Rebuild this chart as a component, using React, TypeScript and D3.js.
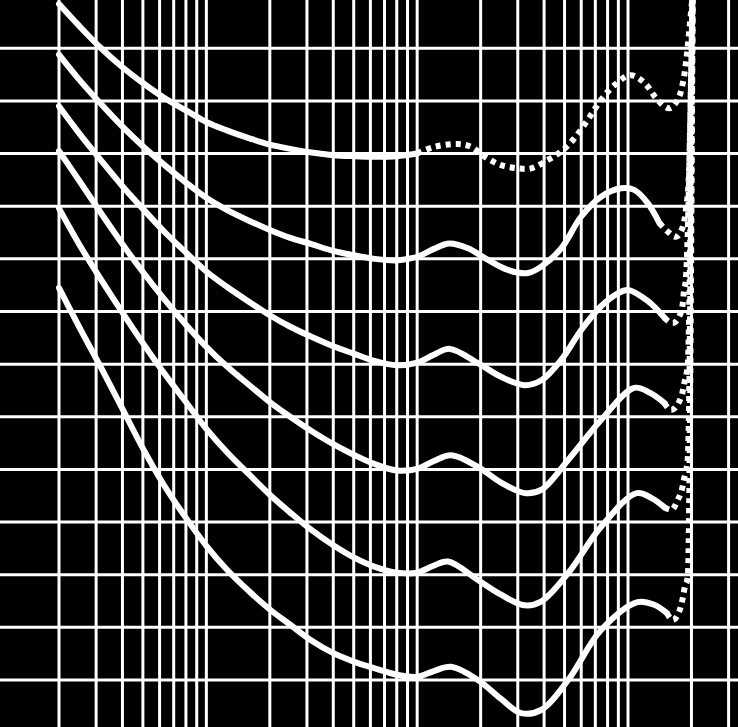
import React from "react";
import * as d3 from "d3";

// Frequency axis (Hz) and level axis (dB SPL) grid values
const gridFreqs = [20, 30, 40, 50, 60, 70, 80, 90, 100, 200, 300, 400, 500, 600, 700, 800, 900, 1000, 2000, 3000, 4000, 5000, 6000, 7000, 8000, 9000, 10000, 20000, 30000];
const gridLevels = [0, 10, 20, 30, 40, 50, 60, 70, 80, 90, 100, 110, 120, 130];

// Low/mid frequency part, shared by all contours (Hz)
const freqLow = [20, 25, 31.5, 40, 50, 63, 80, 100, 125, 160, 200, 250, 315, 400, 500, 630, 800];

const phon100Low = [128.4, 124.2, 120.1, 116.4, 113.4, 110.6, 108.2, 106.0, 104.4, 102.9, 101.7, 100.9, 100.2, 99.7, 99.5, 99.4, 99.5];
const phon80Low = [118.8, 114.0, 109.5, 105.1, 101.4, 97.9, 94.5, 91.6, 89.3, 87.2, 85.5, 84.0, 82.8, 81.5, 80.7, 80.0, 79.7];
const phon60Low = [109.0, 103.8, 98.8, 93.8, 89.5, 85.2, 81.2, 77.6, 74.7, 71.8, 69.3, 67.1, 65.2, 63.4, 62.0, 60.6, 59.8];
const phon40Low = [100.5, 94.8, 88.8, 82.8, 77.5, 72.4, 67.5, 63.3, 59.6, 56.0, 52.8, 50.0, 47.3, 44.8, 42.8, 41.0, 39.8];
const phon20Low = [89.6, 82.7, 76.2, 69.8, 64.0, 58.3, 52.8, 47.7, 43.3, 39.0, 35.2, 31.8, 28.5, 25.6, 23.3, 21.5, 20.4];
const phon0Low = [74.5, 67.0, 59.5, 51.5, 44.0, 37.0, 30.8, 25.5, 21.0, 16.8, 13.4, 10.5, 7.5, 5.1, 3.5, 2.2, 1.0];

// 100-phon contour from 1 kHz upward (dotted)
const freq100High = [1000, 1210, 1560, 1800, 2090, 2500, 3000, 3470, 4170, 4820, 5570, 6440, 7450, 8620, 10300, 12000, 13800, 15700, 17200, 18200, 18900, 19600, 20300];
const phon100High = [100.0, 101.3, 101.8, 101.3, 99.4, 97.8, 97.2, 97.2, 98.8, 100.4, 102.9, 106.4, 110.2, 113.0, 114.9, 113.4, 110.2, 108.6, 110.2, 113.4, 117.8, 124.1, 130.5];

// Other contours from 1 kHz up to ~15 kHz (solid)
const freq80High = [1000, 1200, 1420, 1740, 2170, 2690, 3350, 3870, 4820, 5990, 7450, 9290, 10700, 12400, 14100];
const phon80High = [80.4, 81.9, 82.9, 82.0, 79.8, 77.9, 77.3, 78.5, 82.0, 88.0, 91.8, 93.4, 93.1, 90.6, 86.8];
const freq60High = [1000, 1200, 1430, 1940, 2500, 3230, 3900, 4820, 6000, 7450, 8900, 10000, 12400, 14900];
const phon60High = [60.3, 61.8, 62.9, 60.2, 57.6, 56.0, 57.0, 60.8, 66.5, 71.0, 73.4, 74.1, 72.0, 68.8];
const freq40High = [1000, 1200, 1450, 1940, 2500, 3230, 3870, 5200, 7450, 10700, 12800, 14900];
const phon40High = [40.1, 41.6, 42.7, 40.5, 37.5, 35.5, 36.1, 41.8, 49.4, 55.5, 54.5, 52.6];
const freq20High = [1000, 1180, 1400, 1940, 2500, 3230, 3870, 5200, 7450, 11000, 13000, 14900];
const phon20High = [20.4, 21.6, 22.5, 19.0, 16.2, 14.2, 14.9, 20.3, 29.1, 35.5, 34.5, 32.8];
const freq0High = [1000, 1200, 1450, 1940, 2500, 3110, 3870, 5200, 7450, 11100, 13300, 15300];
const phon0High = [0.6, 1.7, 2.5, 0.0, -3.6, -6.3, -5.7, 0.0, 9.5, 14.8, 14.3, 12.7];

// Dotted extrapolations above ~15 kHz
const freq80Ext = [14100, 15400, 16900, 18200, 18900, 19400, 20300];
const phon80Ext = [86.8, 85.2, 84.2, 86.1, 89.9, 95.0, 135.0];
const freq60Ext = [14900, 16300, 17600, 18200, 18400, 18800, 20300];
const phon60Ext = [68.8, 67.8, 69.3, 71.6, 73.7, 76.0, 135.0];
const freq40Ext = [14900, 16000, 17900, 18500, 19200, 20300];
const phon40Ext = [52.6, 51.3, 53.8, 56.4, 60.0, 135.0];
const freq20Ext = [14900, 16100, 17200, 18000, 18400, 19200, 20300];
const phon20Ext = [32.8, 32.3, 34.2, 36.1, 38.0, 42.0, 135.0];
const freq0Ext = [15300, 16300, 17600, 18200, 18600, 19200, 20300];
const phon0Ext = [12.7, 11.4, 13.3, 15.6, 17.7, 19.4, 135.0];

const W = 738;
const H = 727;

const x = d3.scaleLog().domain([20, 10000]).range([59, 628]);
const y = d3.scaleLinear().domain([0, 120]).range([680, 48.3]);

const smoothLine = d3
  .line<[number, number]>()
  .x((d) => x(d[0]))
  .y((d) => y(d[1]))
  .curve(d3.curveCatmullRom.alpha(0.5));

const extLine = d3
  .line<[number, number]>()
  .x((d) => x(d[0]))
  .y((d) => y(d[1]))
  .curve(d3.curveMonotoneX);

const zip = (fs: number[], vs: number[]): [number, number][] => fs.map((f, i) => [f, vs[i]]);

const solidSeries = [
  zip(freqLow, phon100Low).concat([[freq100High[0], phon100High[0]]]),
  zip(freqLow, phon80Low).concat(zip(freq80High, phon80High)),
  zip(freqLow, phon60Low).concat(zip(freq60High, phon60High)),
  zip(freqLow, phon40Low).concat(zip(freq40High, phon40High)),
  zip(freqLow, phon20Low).concat(zip(freq20High, phon20High)),
  zip(freqLow, phon0Low).concat(zip(freq0High, phon0High)),
];

const topDotted = zip(freq100High, phon100High);

const extSeries = [
  zip(freq80Ext, phon80Ext),
  zip(freq60Ext, phon60Ext),
  zip(freq40Ext, phon40Ext),
  zip(freq20Ext, phon20Ext),
  zip(freq0Ext, phon0Ext),
];

export default function App() {
  return (
    <svg
      width={W}
      height={H}
      viewBox={`0 0 ${W} ${H}`}
      style={{ position: "absolute", left: 0, top: 0, display: "block" }}
    >
      <defs>
        <clipPath id="plot">
          <rect x={0} y={0} width={W} height={H} />
        </clipPath>
      </defs>
      <rect x={0} y={0} width={W} height={H} fill="#000" />
      <g stroke="#fff" strokeWidth={3}>
        {gridFreqs.map((f) => (
          <line key={"v" + f} x1={x(f)} x2={x(f)} y1={0} y2={H} />
        ))}
        {gridLevels.map((l) => (
          <line key={"h" + l} x1={0} x2={W} y1={y(l)} y2={y(l)} />
        ))}
      </g>
      <g clipPath="url(#plot)" fill="none" stroke="#fff">
        {solidSeries.map((s, i) => (
          <path key={"s" + i} d={smoothLine(s) || ""} strokeWidth={6} strokeLinecap="round" strokeLinejoin="round" />
        ))}
        <path d={smoothLine(topDotted) || ""} strokeWidth={6} strokeDasharray="5 5" strokeLinecap="butt" />
        {extSeries.map((s, i) => (
          <path key={"e" + i} d={extLine(s) || ""} strokeWidth={6} strokeDasharray="5 5" strokeLinecap="butt" />
        ))}
      </g>
    </svg>
  );
}
